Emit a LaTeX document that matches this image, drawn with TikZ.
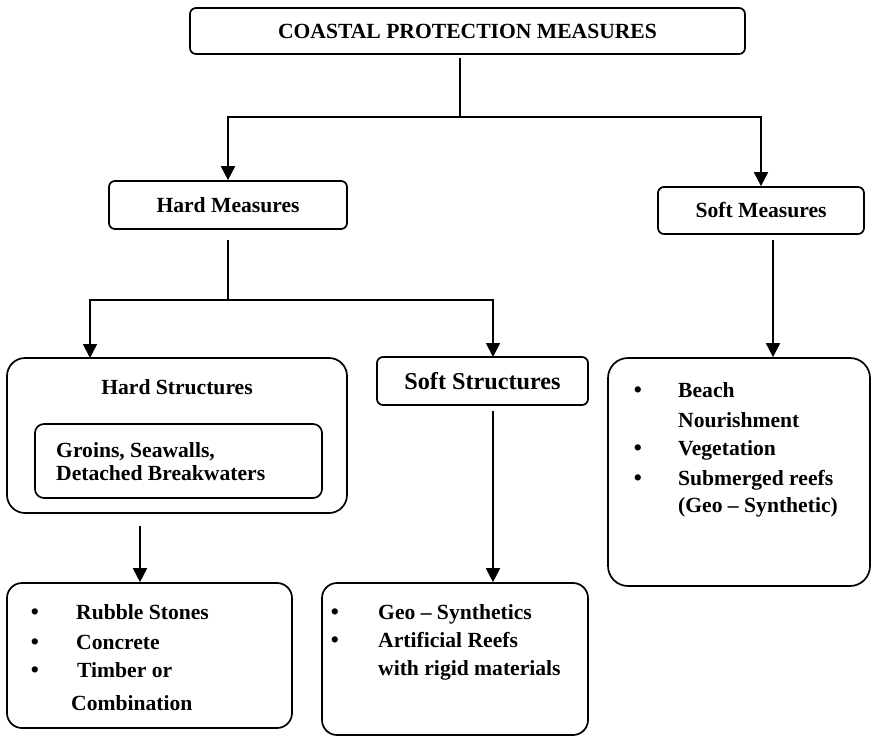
\documentclass[tikz,border=0pt]{standalone}
\usepackage{fontspec}
\setmainfont{Liberation Serif}
\usetikzlibrary{arrows.meta}
\begin{document}
\begin{tikzpicture}[x=1pt,y=-1pt,
  box/.style={draw, line width=1.7pt, rounded corners=6pt, inner sep=0pt,
    font=\bfseries\fontsize{21.6}{24}\selectfont},
  bigbox/.style={box, rounded corners=18pt},
  txt/.style={anchor=base west, inner sep=0pt, font=\bfseries\fontsize{21.6}{24}\selectfont},
  bul/.style={anchor=base, inner sep=0pt, font=\bfseries\fontsize{23}{26}\selectfont},
  conn/.style={line width=1.8pt},
  arr/.style={conn, -{Triangle[length=14pt,width=14pt]}}]
\useasboundingbox (0,0) rectangle (873,736);

% boxes
\node[box, minimum width=555pt, minimum height=46pt] (top) at (467.5,31) {COASTAL PROTECTION MEASURES};
\node[box, minimum width=238pt, minimum height=48pt] (hm) at (228,205) {Hard Measures};
\node[box, minimum width=206pt, minimum height=47pt] (sm) at (761,210.5) {Soft Measures};
\node[bigbox, minimum width=340pt, minimum height=155pt] (hs) at (177,435.5) {};
\node[txt, anchor=center] (hstitle) at (177,387) {Hard Structures};
\node[box, rounded corners=9pt, minimum width=287pt, minimum height=74pt] (hsin) at (178.5,461) {};
\node[txt] (g1) at (56,457) {Groins, Seawalls,};
\node[txt] (g2) at (56,480) {Detached Breakwaters};
\node[box, minimum width=211pt, minimum height=48pt, font=\bfseries\fontsize{24.2}{27}\selectfont] (ss) at (482.5,381) {Soft Structures};
\node[bigbox, rounded corners=15pt, minimum width=285pt, minimum height=145pt] (hb) at (149.5,655.5) {};
\node[bigbox, rounded corners=15pt, minimum width=266pt, minimum height=152pt] (sb) at (455,659) {};
\node[bigbox, rounded corners=20pt, minimum width=262pt, minimum height=228pt] (smb) at (739,472) {};

% hard bottom list
\node[bul] (hb1) at (35,619) {•};
\node[bul] (hb2) at (35,649) {•};
\node[bul] (hb3) at (35,677) {•};
\node[txt] (hbt1) at (76,619) {Rubble Stones};
\node[txt] (hbt2) at (76,649) {Concrete};
\node[txt] (hbt3) at (77,677) {Timber or};
\node[txt] (hbt4) at (71,710) {Combination};

% soft bottom list
\node[bul] (sb1) at (335,619) {•};
\node[bul] (sb2) at (335,647) {•};
\node[txt] (sbt1) at (378,619) {Geo – Synthetics};
\node[txt] (sbt2) at (378,647) {Artificial Reefs};
\node[txt] (sbt3) at (378,675) {with rigid materials};

% soft measures list
\node[bul] (sm1) at (638,397) {•};
\node[bul] (sm2) at (638,455) {•};
\node[bul] (sm3) at (638,485) {•};
\node[txt] (smt1) at (678,397) {Beach};
\node[txt] (smt2) at (678,427) {Nourishment};
\node[txt] (smt3) at (678,455) {Vegetation};
\node[txt] (smt4) at (678,485) {Submerged reefs};
\node[txt] (smt5) at (678,512) {(Geo – Synthetic)};

% junctions and entry points
\coordinate (j1) at (460,117);
\coordinate (j2) at (228,300);
\coordinate (hsentry) at (90,358);
\coordinate (ssentry) at (493,357);
\coordinate (xa) at (140,0);
\coordinate (xb) at (493,0);
\coordinate (xc) at (773,0);

% connectors
\draw[conn, shorten <=3pt] (top.south -| j1) -- (j1);
\draw[arr] (j1) -| (hm.north);
\draw[arr] (j1) -| (sm.north);
\draw[conn, shorten <=10pt] (hm.south) -- (j2);
\draw[arr] (j2) -| (hsentry);
\draw[arr] (j2) -| (ssentry);
\draw[arr, shorten <=12pt] (hs.south -| xa) -- (hb.north -| xa);
\draw[arr, shorten <=5pt] (ss.south -| xb) -- (sb.north -| xb);
\draw[arr, shorten <=5pt] (sm.south -| xc) -- (smb.north -| xc);
\end{tikzpicture}
\end{document}
